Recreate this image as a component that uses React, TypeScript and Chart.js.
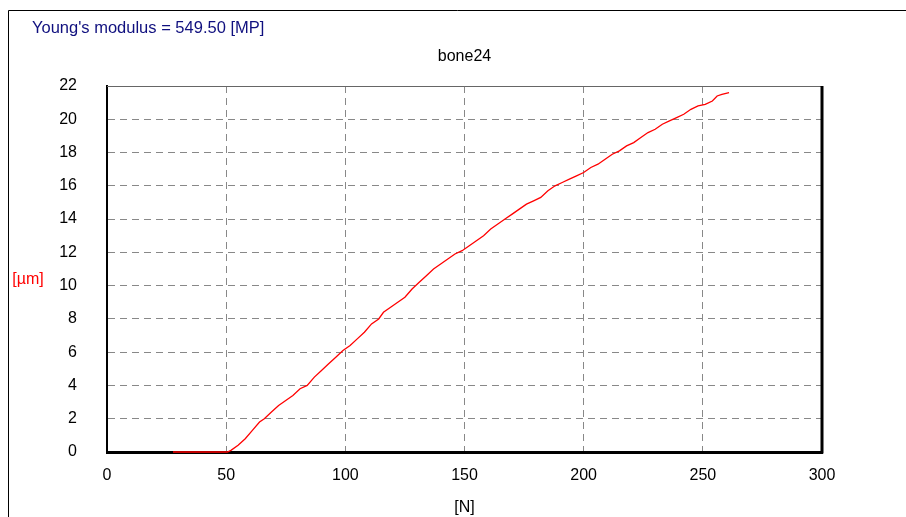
import React, { useEffect, useRef } from "react";
import { Chart, registerables } from "chart.js";

Chart.register(...registerables);

const forceN: number[] = [
  27.7, 50.5, 52, 55, 58, 61, 64, 66, 69, 72, 75, 78, 81, 84, 87, 90, 93, 96, 99,
  102, 105, 108, 111, 114, 116, 119, 122, 125, 128, 131, 134, 137, 140, 143, 146,
  149, 152, 155, 158, 161, 164, 167, 170, 173, 176, 179, 182, 185, 188, 191, 194,
  197, 200, 203, 206, 209, 212, 215, 218, 221, 224, 227, 230, 233, 236, 239, 242,
  245, 248, 251, 254, 256, 258, 261,
];
const displacementUm: number[] = [
  0, 0, 0.1, 0.4, 0.8, 1.3, 1.8, 2.0, 2.4, 2.8, 3.1, 3.4, 3.8, 4.0, 4.5, 4.9, 5.3, 5.7, 6.1,
  6.4, 6.8, 7.2, 7.7, 8.0, 8.4, 8.7, 9.0, 9.3, 9.8, 10.2, 10.6, 11.0, 11.3, 11.6, 11.9,
  12.1, 12.4, 12.7, 13.0, 13.4, 13.7, 14.0, 14.3, 14.6, 14.9, 15.1, 15.3, 15.7, 16.0, 16.2, 16.4,
  16.6, 16.8, 17.1, 17.3, 17.6, 17.9, 18.1, 18.4, 18.6, 18.9, 19.2, 19.4, 19.7, 19.9, 20.1, 20.3,
  20.6, 20.8, 20.9, 21.1, 21.4, 21.5, 21.6,
];

const headerText = "Young's modulus = 549.50 [MP]";
const chartTitle = "bone24";
const yAxisLabel = "[µm]";
const xAxisLabel = "[N]";
const xRange = { min: 0, max: 300, step: 50 };
const yRange = { min: 0, max: 22, step: 2 };

const FONT = "'Liberation Sans', Arial, sans-serif";

export default function App() {
  const ref = useRef<HTMLCanvasElement | null>(null);

  useEffect(() => {
    if (!ref.current) return;
    const decor = {
      id: "decor",
      beforeDatasetsDraw(chart: any) {
        const { ctx, chartArea } = chart;
        ctx.save();
        ctx.strokeStyle = "#666666";
        ctx.lineWidth = 1;
        ctx.beginPath();
        ctx.moveTo(chartArea.left, chartArea.top + 0.5);
        ctx.lineTo(chartArea.right, chartArea.top + 0.5);
        ctx.stroke();
        ctx.strokeStyle = "#000000";
        ctx.lineWidth = 3;
        ctx.beginPath();
        ctx.moveTo(chartArea.right, chartArea.top);
        ctx.lineTo(chartArea.right, chartArea.bottom + 1.5);
        ctx.stroke();
        ctx.restore();
      },
      afterDraw(chart: any) {
        const { ctx, chartArea, width, height } = chart;
        ctx.save();
        ctx.strokeStyle = "#000000";
        ctx.lineWidth = 1;
        ctx.beginPath();
        ctx.moveTo(8.5, height);
        ctx.lineTo(8.5, 10.5);
        ctx.lineTo(width, 10.5);
        ctx.stroke();
        ctx.textBaseline = "middle";
        ctx.font = `16.5px ${FONT}`;
        ctx.fillStyle = "#10107f";
        ctx.textAlign = "left";
        ctx.fillText(headerText, 32, 28);
        ctx.font = `16px ${FONT}`;
        ctx.fillStyle = "#000000";
        ctx.textAlign = "center";
        ctx.fillText(chartTitle, (chartArea.left + chartArea.right) / 2, 57);
        ctx.fillStyle = "#ff0000";
        ctx.fillText(yAxisLabel, 28, 280);
        ctx.restore();
      },
    };

    const chart = new Chart(ref.current, {
      type: "scatter",
      data: {
        datasets: [
          {
            data: forceN.map((x, i) => ({ x, y: displacementUm[i] })),
            showLine: true,
            borderColor: "#ff0000",
            borderWidth: 1.3,
            pointRadius: 0,
            tension: 0,
            clip: false,
          },
        ],
      },
      options: {
        responsive: false,
        animation: false,
        layout: { padding: { left: 0, right: 84, top: 86, bottom: 0 } },
        plugins: {
          legend: { display: false },
          tooltip: { enabled: false },
        },
        scales: {
          x: {
            type: "linear",
            min: xRange.min,
            max: xRange.max,
            ticks: {
              stepSize: xRange.step,
              padding: 14,
              color: "#000000",
              font: { family: FONT, size: 16 },
              maxRotation: 0,
            },
            grid: { color: "#888888", lineWidth: 1, drawTicks: false },
            border: { display: true, color: "#000000", width: 3, dash: [7, 5] },
            title: {
              display: true,
              text: xAxisLabel,
              color: "#000000",
              font: { family: FONT, size: 16 },
              padding: 0,
            },
            afterFit(scale: any) {
              scale.height = 65;
            },
          },
          y: {
            type: "linear",
            min: yRange.min,
            max: yRange.max,
            ticks: {
              stepSize: yRange.step,
              padding: 30,
              color: "#000000",
              font: { family: FONT, size: 16 },
            },
            grid: { color: "#888888", lineWidth: 1, drawTicks: false },
            border: { display: true, color: "#000000", width: 2, dash: [7, 5] },
            afterFit(scale: any) {
              scale.width = 107;
            },
          },
        },
      },
      plugins: [decor],
    });
    return () => chart.destroy();
  }, []);

  return (
    <canvas
      ref={ref}
      width={906}
      height={517}
      style={{ position: "absolute", left: 0, top: 0, background: "#ffffff" }}
    />
  );
}
